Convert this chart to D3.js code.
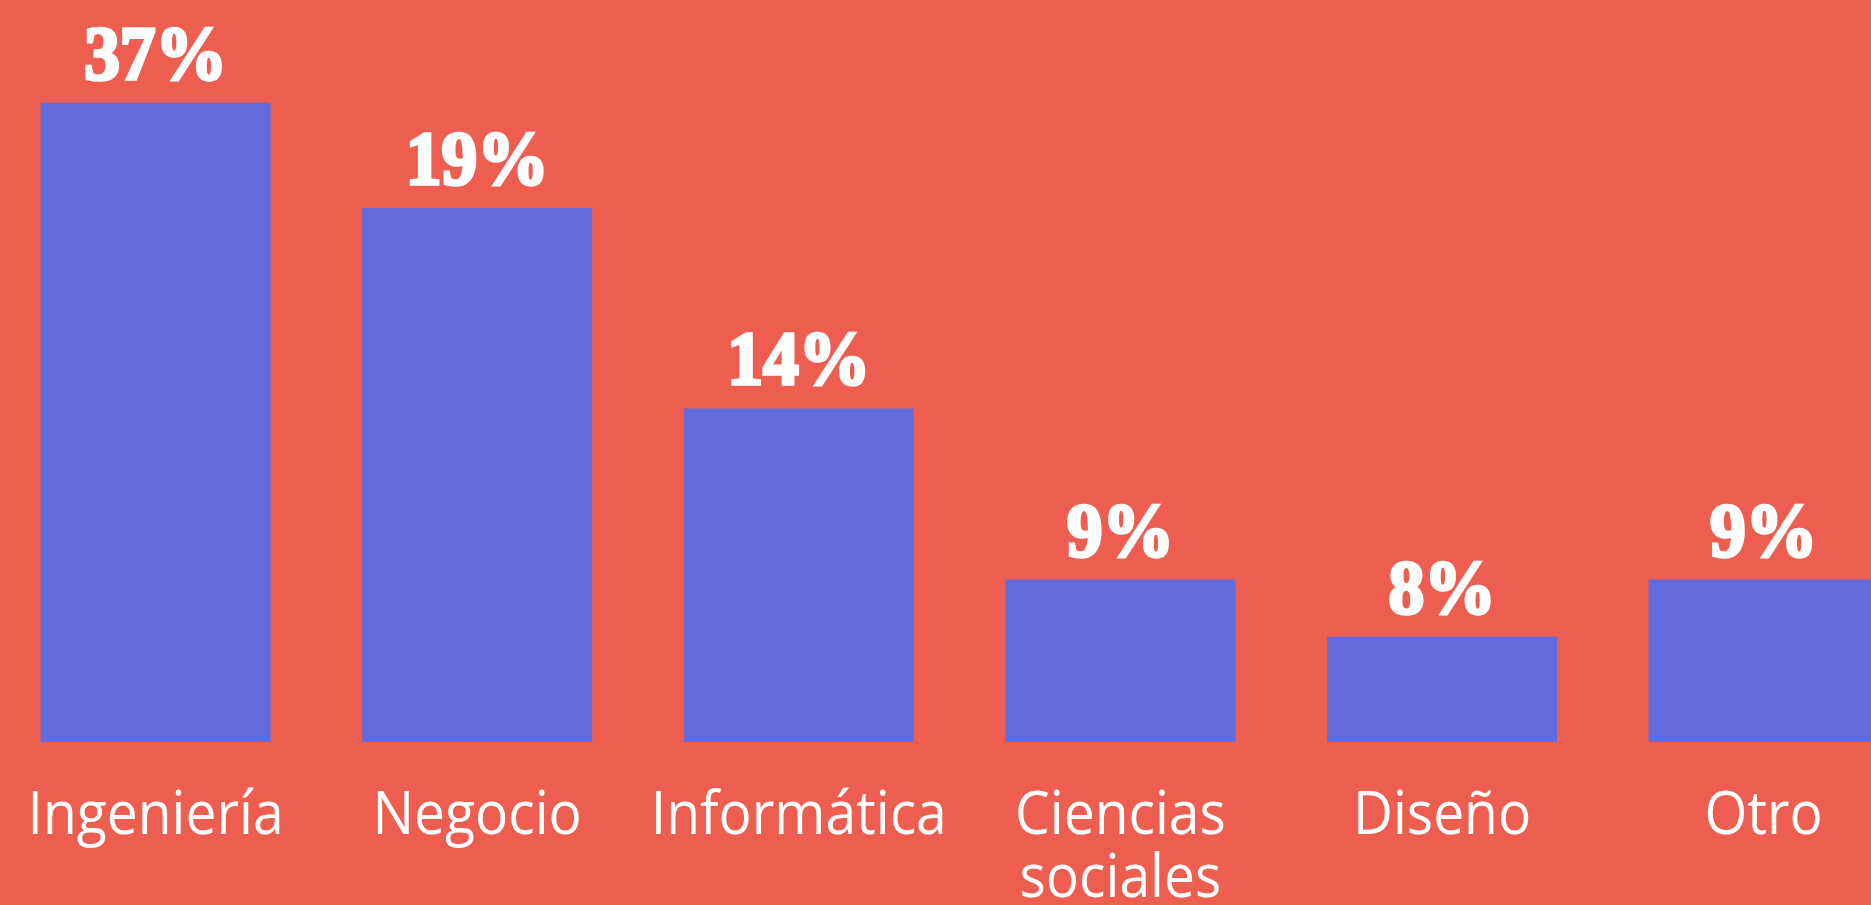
<!DOCTYPE html>
<html>
<head>
<meta charset="utf-8">
<script src="https://cdn.jsdelivr.net/npm/d3@7"></script>
<style>
  html, body { margin: 0; padding: 0; background: #ED5E50; overflow: hidden; }
</style>
</head>
<body>
<div id="chart"></div>
<script>
//categories and the shown percentages
var categories = ["Ingeniería", "Negocio", "Informática", "Ciencias sociales", "Diseño", "Otro"];
var percentLabels = ["37%", "19%", "14%", "9%", "8%", "9%"];
// bar lengths as drawn (the picture is not to scale)
var barLengths = [37, 30.9, 19.3, 9.4, 6.1, 9.4];

var width = 1871;
var height = 905;
var baseline = 742;

var svg = d3.select("#chart")
  .append("svg")
  .attr("width", width)
  .attr("height", height);

svg.append("rect")
  .attr("width", width)
  .attr("height", height)
  .attr("fill", "#ED5E50");

var x = d3.scaleBand()
  .domain(categories)
  .range([40.6, 1878.6])
  .paddingInner(0.285)
  .paddingOuter(0);

var y = d3.scaleLinear()
  .domain([0, 37])
  .range([baseline, 102.6]);

//bars
svg.selectAll(".bar")
  .data(categories)
  .enter()
  .append("rect")
  .attr("class", "bar")
  .attr("x", function(d) { return x(d); })
  .attr("y", function(d, i) { return y(barLengths[i]); })
  .attr("width", x.bandwidth())
  .attr("height", function(d, i) { return baseline - y(barLengths[i]); })
  .attr("fill", "#646CDD");

//percent labels (heavy slab look: bold serif with a white outline)
svg.selectAll(".pct")
  .data(categories)
  .enter()
  .append("text")
  .attr("class", "pct")
  .attr("transform", function(d, i) {
    return "translate(" + (x(d) + x.bandwidth() / 2) + "," + (y(barLengths[i]) - 24) + ") scale(0.94,1)";
  })
  .attr("text-anchor", "middle")
  .attr("fill", "#fff")
  .attr("stroke", "#fff")
  .attr("stroke-width", 3.5)
  .attr("stroke-linejoin", "miter")
  .style("font-family", "'Liberation Serif', serif")
  .style("font-weight", "bold")
  .style("font-size", "76px")
  .text(function(d, i) { return percentLabels[i]; });

//category labels, wrapped on spaces for long names
var cat = svg.selectAll(".cat")
  .data(categories)
  .enter()
  .append("text")
  .attr("class", "cat")
  .attr("transform", function(d) { return "translate(" + (x(d) + x.bandwidth() / 2) + ",834) scale(0.92,1)"; })
  .attr("text-anchor", "middle")
  .attr("fill", "#fff")
  .style("font-family", "'Open Sans', sans-serif")
  .style("font-weight", 400)
  .style("font-size", "60px");

cat.each(function(d) {
  var words = d.length > 12 ? d.split(" ") : [d];
  var t = d3.select(this);
  words.forEach(function(w, k) {
    t.append("tspan")
      .attr("x", 0)
      .attr("dy", k === 0 ? 0 : 63)
      .text(w);
  });
});
</script>
</body>
</html>
